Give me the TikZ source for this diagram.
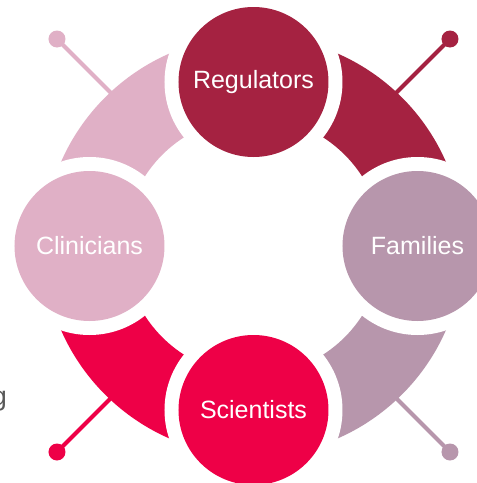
\documentclass[tikz,border=0pt]{standalone}
\usepackage{fontspec}
\setmainfont{Liberation Sans}
\definecolor{creg}{HTML}{A52241}
\definecolor{cfam}{HTML}{B796AC}
\definecolor{csci}{HTML}{EE0047}
\definecolor{ccli}{HTML}{E0B0C6}
\definecolor{ctxt}{HTML}{595959}
\tikzset{
  hub/.style={circle,minimum size=150pt,inner sep=0pt,text=white,font=\fontsize{25}{29}\selectfont},
  gapdisc/.style={circle,fill=white,minimum size=178pt,inner sep=0pt},
  dotend/.style={circle,minimum size=17pt,inner sep=0pt},
  stem/.style={line width=4pt}
}
\begin{document}
\begin{tikzpicture}[x=1pt,y=1pt]
\useasboundingbox (-253.5,-237) rectangle (223.5,246);
\fill[white] (-253.5,-237) rectangle (223.5,246);
% stems and dots
\node[dotend,fill=ccli] (dtl) at (-196.5,207) {};
\node[dotend,fill=creg] (dtr) at (196.5,207) {};
\node[dotend,fill=csci] (dbl) at (-196.5,-206) {};
\node[dotend,fill=cfam] (dbr) at (196.5,-206) {};
\coordinate (etl) at (-116.5,127);
\coordinate (etr) at (116.5,127);
\coordinate (ebl) at (-116.5,-126);
\coordinate (ebr) at (116.5,-126);
\draw[stem,ccli] (dtl.center) -- (etl);
\draw[stem,creg] (dtr.center) -- (etr);
\draw[stem,csci] (dbl.center) -- (ebl);
\draw[stem,cfam] (dbr.center) -- (ebr);
% ring segments
\fill[creg] (0:210) arc[start angle=0,end angle=90,radius=210] -- (90:129) arc[start angle=90,end angle=0,radius=129] -- cycle;
\fill[ccli] (90:210) arc[start angle=90,end angle=180,radius=210] -- (180:129) arc[start angle=180,end angle=90,radius=129] -- cycle;
\fill[csci] (180:210) arc[start angle=180,end angle=270,radius=210] -- (270:129) arc[start angle=270,end angle=180,radius=129] -- cycle;
\fill[cfam] (270:210) arc[start angle=270,end angle=360,radius=210] -- (0:129) arc[start angle=360,end angle=270,radius=129] -- cycle;
% gaps
\node[gapdisc] at (0,164) {};
\node[gapdisc] at (164,0) {};
\node[gapdisc] at (0,-164) {};
\node[gapdisc] at (-164,0) {};
% hubs
\node[hub,fill=creg] (reg) at (0,164) {Regulators};
\node[hub,fill=cfam] (fam) at (164,0) {Families};
\node[hub,fill=csci] (sci) at (0,-164) {Scientists};
\node[hub,fill=ccli] (cli) at (-164,0) {Clinicians};
% clipped text at left
\node[anchor=base east,inner sep=0pt,text=ctxt,font=\fontsize{27}{30}\selectfont] (frag) at (-246.5,-159.7) {g};
\end{tikzpicture}
\end{document}
